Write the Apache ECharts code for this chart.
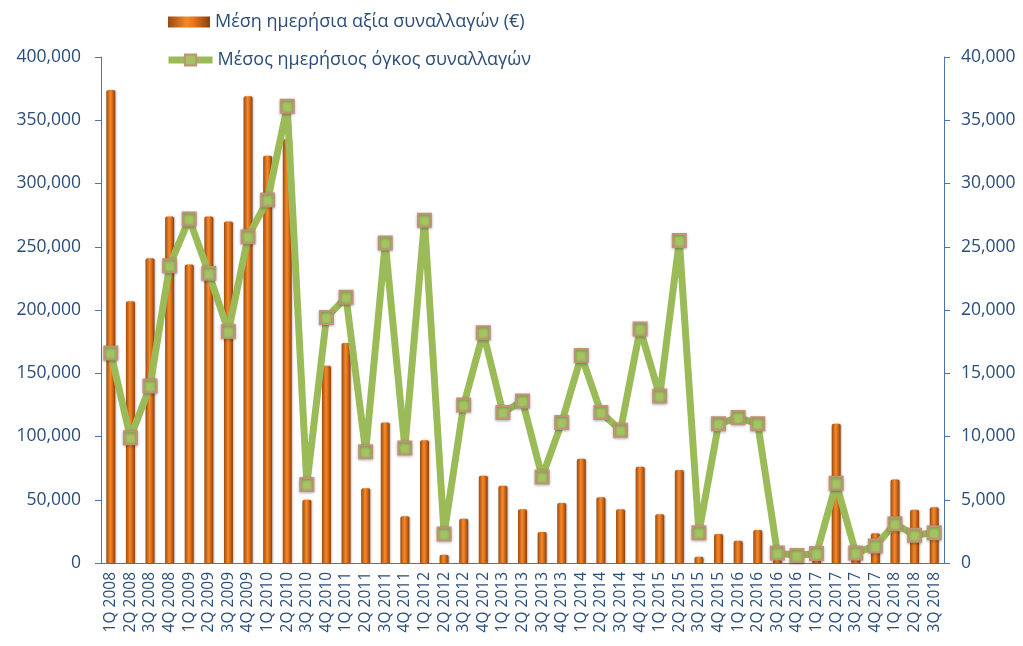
<!DOCTYPE html>
<html>
<head>
<meta charset="utf-8">
<script src="https://cdn.jsdelivr.net/npm/echarts@6/dist/echarts.min.js"></script>
<style>
  html, body { margin: 0; padding: 0; background: #fff; }
  #chart { width: 1023px; height: 646px; }
</style>
</head>
<body>
<div id="chart"></div>
<script>
// quarters 1Q 2008 .. 3Q 2018
const quarters = [
  '1Q 2008', '2Q 2008', '3Q 2008', '4Q 2008',
  '1Q 2009', '2Q 2009', '3Q 2009', '4Q 2009',
  '1Q 2010', '2Q 2010', '3Q 2010', '4Q 2010',
  '1Q 2011', '2Q 2011', '3Q 2011', '4Q 2011',
  '1Q 2012', '2Q 2012', '3Q 2012', '4Q 2012',
  '1Q 2013', '2Q 2013', '3Q 2013', '4Q 2013',
  '1Q 2014', '2Q 2014', '3Q 2014', '4Q 2014',
  '1Q 2015', '2Q 2015', '3Q 2015', '4Q 2015',
  '1Q 2016', '2Q 2016', '3Q 2016', '4Q 2016',
  '1Q 2017', '2Q 2017', '3Q 2017', '4Q 2017',
  '1Q 2018', '2Q 2018', '3Q 2018'
];

// Μέση ημερήσια αξία συναλλαγών (€) - left axis
const dailyValue = [
  374000, 207000, 241000, 274000,
  236000, 274000, 270000, 369000,
  322000, 335000, 50000, 156000,
  174000, 59000, 111000, 37000,
  97000, 6500, 35000, 69000,
  61000, 42500, 24500, 47500,
  82500, 52000, 42500, 76000,
  38500, 73500, 5000, 23000,
  17500, 26000, 2500, 1500,
  2000, 110000, 8000, 23500,
  66000, 42000, 44000
];

// Μέσος ημερήσιος όγκος συναλλαγών - right axis
const dailyVolume = [
  16600, 9900, 14000, 23500,
  27200, 22900, 18300, 25800,
  28700, 36100, 6200, 19400,
  21000, 8800, 25300, 9100,
  27100, 2300, 12500, 18200,
  11900, 12800, 6800, 11100,
  16400, 11900, 10500, 18500,
  13200, 25500, 2400, 11000,
  11500, 11000, 800, 600,
  750, 6300, 800, 1350,
  3100, 2200, 2400
];

const leftTicks = { max: 400000, step: 50000 };
const rightTicks = { max: 40000, step: 5000 };

const barName = 'Μέση ημερήσια αξία συναλλαγών (€)';
const lineName = 'Μέσος ημερήσιος όγκος συναλλαγών';

const textBlue = '#2a4d7a';
const axisBlue = '#4a76b0';
const green = '#9bbb59';
const font = '"Open Sans", "Noto Sans", sans-serif';
const fmt = v => v.toLocaleString('en-US');

const barColor = new echarts.graphic.LinearGradient(0, 0, 1, 0, [
  { offset: 0, color: '#9a4a10' },
  { offset: 0.45, color: '#f5892a' },
  { offset: 0.6, color: '#e8761c' },
  { offset: 1, color: '#8a3f0c' }
]);

const legendText = { color: textBlue, fontSize: 18, fontFamily: font };

const options = {
  animation: false,
  textStyle: { fontFamily: font },
  legend: [
    {
      left: 163,
      top: 8,
      itemWidth: 42,
      itemHeight: 11,
      textStyle: legendText,
      data: [{ name: barName, icon: 'rect' }]
    },
    {
      left: 160,
      top: 46,
      itemWidth: 44,
      itemHeight: 14,
      textStyle: legendText,
      lineStyle: { width: 7 },
      data: [{ name: lineName }]
    }
  ],
  grid: {
    left: 101,
    right: 79,
    top: 57,
    bottom: 83,
    containLabel: false
  },
  xAxis: {
    type: 'category',
    data: quarters,
    axisLine: { lineStyle: { color: axisBlue, width: 1 } },
    axisTick: { show: false },
    axisLabel: {
      interval: 0,
      rotate: 90,
      margin: 9,
      color: textBlue,
      fontSize: 15.5,
      fontFamily: font
    }
  },
  yAxis: [
    {
      type: 'value',
      min: 0,
      max: leftTicks.max,
      interval: leftTicks.step,
      splitLine: { show: false },
      axisLine: { show: true, lineStyle: { color: axisBlue } },
      axisTick: { show: true, length: 6, lineStyle: { color: axisBlue } },
      axisLabel: { color: textBlue, fontSize: 17.5, margin: 20, formatter: fmt, fontFamily: font }
    },
    {
      type: 'value',
      min: 0,
      max: rightTicks.max,
      interval: rightTicks.step,
      splitLine: { show: false },
      axisLine: { show: true, lineStyle: { color: axisBlue } },
      axisTick: { show: true, length: 6, lineStyle: { color: axisBlue } },
      axisLabel: { color: textBlue, fontSize: 17.5, margin: 17, formatter: fmt, fontFamily: font }
    }
  ],
  series: [
    {
      name: barName,
      type: 'bar',
      yAxisIndex: 0,
      barWidth: 9,
      data: dailyValue,
      itemStyle: {
        color: barColor,
        borderRadius: [2, 2, 0, 0],
        shadowColor: 'rgba(0,0,0,0.25)',
        shadowBlur: 2,
        shadowOffsetX: 1
      }
    },
    {
      name: lineName,
      type: 'line',
      yAxisIndex: 1,
      data: dailyVolume,
      z: 5,
      symbol: 'rect',
      symbolSize: 13,
      lineStyle: { color: green, width: 7 },
      itemStyle: {
        color: '#a4c363',
        borderColor: '#c09278',
        borderWidth: 2,
        shadowColor: 'rgba(0,0,0,0.3)',
        shadowBlur: 3,
        shadowOffsetY: 1
      }
    }
  ]
};

echarts.init(document.getElementById('chart')).setOption(options);
</script>
</body>
</html>
